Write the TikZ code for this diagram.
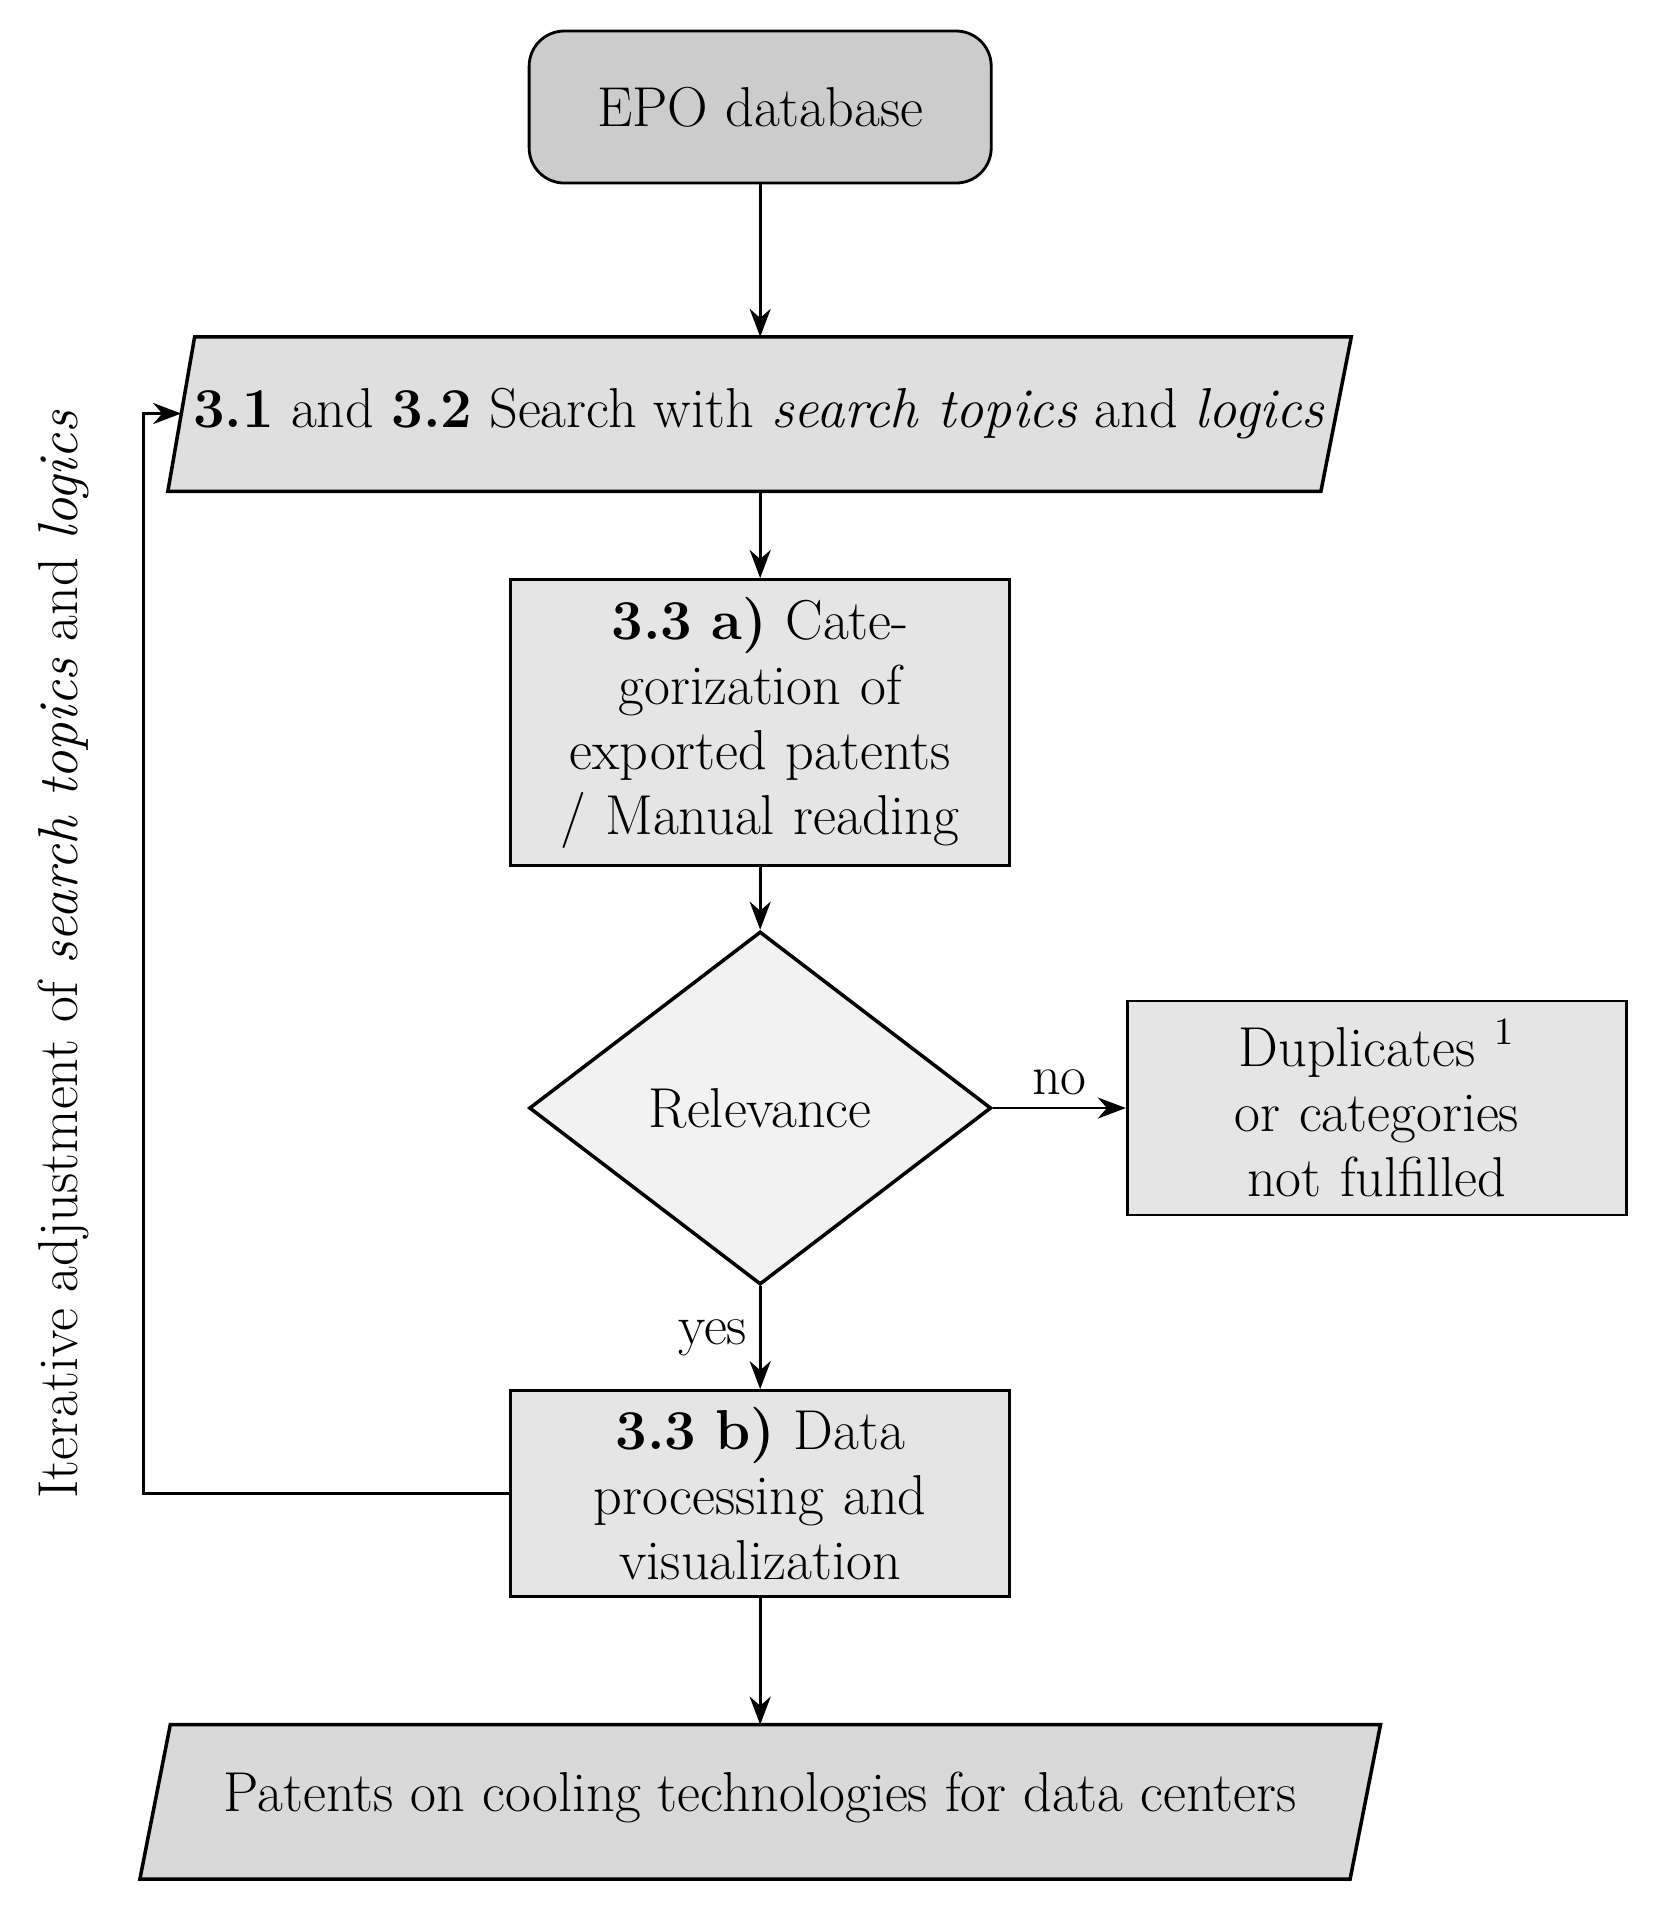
\documentclass[tikz,border=0pt]{standalone}
\usepackage{tikz}
\usetikzlibrary{shapes.geometric,arrows.meta}
\begin{document}
\begin{tikzpicture}[x=0.01216cm,y=-0.01216cm,
  box/.style={draw,thick,fill=#1,align=center,font=\fontsize{16}{18.5}\selectfont},
  txt/.style={align=center,font=\fontsize{16}{18.5}\selectfont},
  arr/.style={thick,-{Stealth[length=8pt,width=6pt]}},
  line width=1pt]
\useasboundingbox (0,0) rectangle (1360,1572);
\node[box=gray!40,rounded corners=10pt,minimum width=380\pgflinewidth,inner sep=0pt] (epo) at (625,88) [minimum width=4.62cm,minimum height=1.52cm] {EPO database};
% parallelogram 1
\filldraw[fill=gray!25] (160,277) -- (1111,277) -- (1086,404) -- (138,404) -- cycle;
\node[txt] (p1) at (624,340) {\textbf{3.1} and \textbf{3.2} Search with \textit{search topics} and \textit{logics}};
\coordinate (p1t) at (625,277); \coordinate (p1b) at (625,404); \coordinate (p1l) at (149,340);
\node[box=gray!20,minimum width=4.99cm,minimum height=2.86cm,text width=4.4cm] (a) at (625,594) {\textbf{3.3 a)} Categorization of exported patents / Manual reading};
\node[draw,diamond,fill=gray!10,aspect=1.31,minimum width=4.62cm,minimum height=3.53cm,inner sep=0pt,txt] (d) at (625,911) {Relevance};
\node[box=gray!20,minimum width=4.99cm,minimum height=2.14cm,text width=4.4cm] (dup) at (1132,911) {Duplicates $^1$\\ or categories\\ not fulfilled};
\node[box=gray!20,minimum width=4.99cm,minimum height=2.06cm,text width=4.4cm] (b) at (625,1228) {\textbf{3.3 b)} Data processing and visualization};
\filldraw[fill=gray!30] (140,1418) -- (1135,1418) -- (1110,1545) -- (115,1545) -- cycle;
\node[txt] (p2) at (625,1478) {Patents on cooling technologies for data centers};
\coordinate (p2t) at (625,1418);
\draw[arr] (epo) -- (p1t);
\draw[arr] (p1b) -- (a);
\draw[arr] (a) -- (d);
\draw[arr] (d) -- node[txt,above] {no} (dup);
\draw[arr] (d) -- node[txt,left] {yes} (b);
\draw[arr] (b) -- (p2t);
\draw[arr] (b.west) -| (118,340) -- (p1l);
\node[txt,rotate=90] (lab) at (52,785) {Iterative adjustment of \textit{search topics} and \textit{logics}};
\end{tikzpicture}
\end{document}
